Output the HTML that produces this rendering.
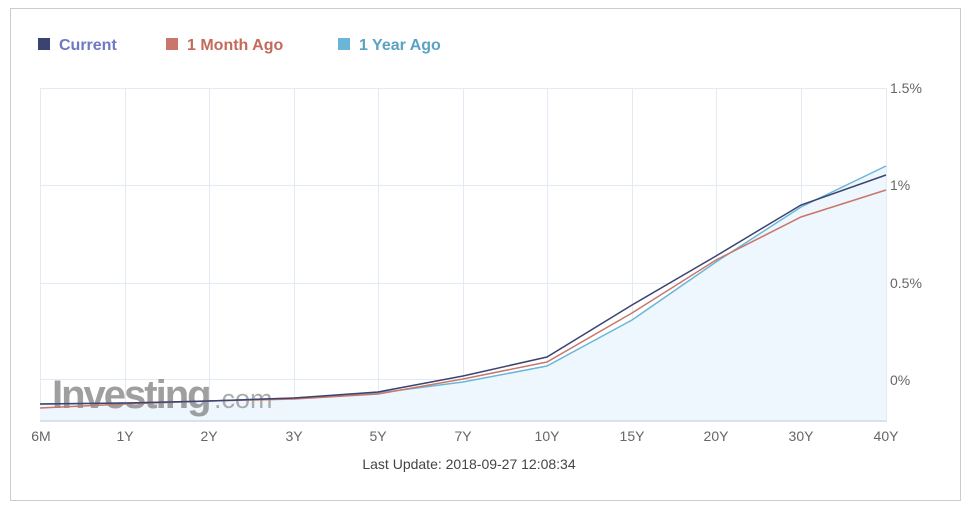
<!DOCTYPE html>
<html><head><style>
body{margin:0;background:#fff;width:968px;height:513px;overflow:hidden;font-family:"Liberation Sans",sans-serif}
</style></head><body>
<svg width="968" height="513" xmlns="http://www.w3.org/2000/svg" font-family="Liberation Sans, sans-serif">
<rect x="10.5" y="8.5" width="950" height="492" fill="#fff" stroke="#ccc"/>
<g font-size="16" font-weight="bold">
<rect x="38" y="38" width="12" height="12" fill="#3b4370"/><text x="59" y="50" fill="#6f78c4">Current</text>
<rect x="166" y="38" width="12" height="12" fill="#c9776a"/><text x="187" y="50" fill="#c46a5a">1 Month Ago</text>
<rect x="338" y="38" width="12" height="12" fill="#6bb6d8"/><text x="359" y="50" fill="#5aa2c4">1 Year Ago</text>
</g>
<g stroke="#e3eaf6" stroke-width="1">
<line x1="40" y1="88.5" x2="887" y2="88.5"/><line x1="40" y1="185.5" x2="887" y2="185.5"/><line x1="40" y1="283.5" x2="887" y2="283.5"/><line x1="40" y1="379.5" x2="887" y2="379.5"/>
<line x1="40.5" y1="88" x2="40.5" y2="421"/><line x1="125.5" y1="88" x2="125.5" y2="421"/><line x1="209.5" y1="88" x2="209.5" y2="421"/><line x1="294.5" y1="88" x2="294.5" y2="421"/><line x1="378.5" y1="88" x2="378.5" y2="421"/><line x1="463.5" y1="88" x2="463.5" y2="421"/><line x1="547.5" y1="88" x2="547.5" y2="421"/><line x1="632.5" y1="88" x2="632.5" y2="421"/><line x1="716.5" y1="88" x2="716.5" y2="421"/><line x1="801.5" y1="88" x2="801.5" y2="421"/><line x1="886.5" y1="88" x2="886.5" y2="421"/>
</g>
<polygon fill="#eef7fd" points="40,404 125,403 209,401 294,398 378,393 463,382 547,366 632,320 716,262 801,207 886,166 886,421 40,421"/>
<line x1="40" y1="421" x2="887" y2="421" stroke="#d8e2ee" stroke-width="2"/>
<text x="52" y="408" font-size="40" font-weight="bold" fill="#888" opacity="0.8" letter-spacing="-2">Investing</text>
<text x="214" y="408" font-size="27" fill="#999" opacity="0.8">.com</text>
<polyline fill="none" stroke="#6bb6d8" stroke-width="1.5" points="40,404 125,403 209,401 294,398 378,393 463,382 547,366 632,320 716,262 801,207 886,166"/>
<polyline fill="none" stroke="#c9776a" stroke-width="1.5" points="40,408 125,404 209,401 294,399 378,394 463,379 547,362 632,313 716,260 801,217 886,190"/>
<polyline fill="none" stroke="#3b4370" stroke-width="1.5" points="40,404 125,403 209,401 294,398 378,392 463,376 547,357 632,305 716,256 801,205 886,175"/>
<g font-size="14" fill="#666">
<text x="890" y="93">1.5%</text><text x="890" y="190">1%</text><text x="890" y="288">0.5%</text><text x="890" y="385">0%</text>
</g>
<g font-size="14" fill="#666" text-anchor="middle">
<text x="41" y="441">6M</text><text x="125" y="441">1Y</text><text x="209" y="441">2Y</text><text x="294" y="441">3Y</text><text x="378" y="441">5Y</text><text x="463" y="441">7Y</text><text x="547" y="441">10Y</text><text x="632" y="441">15Y</text><text x="716" y="441">20Y</text><text x="801" y="441">30Y</text><text x="886" y="441">40Y</text>
</g>
<text x="469" y="469" font-size="14" fill="#444" text-anchor="middle">Last Update: 2018-09-27 12:08:34</text>
</svg>
</body></html>
